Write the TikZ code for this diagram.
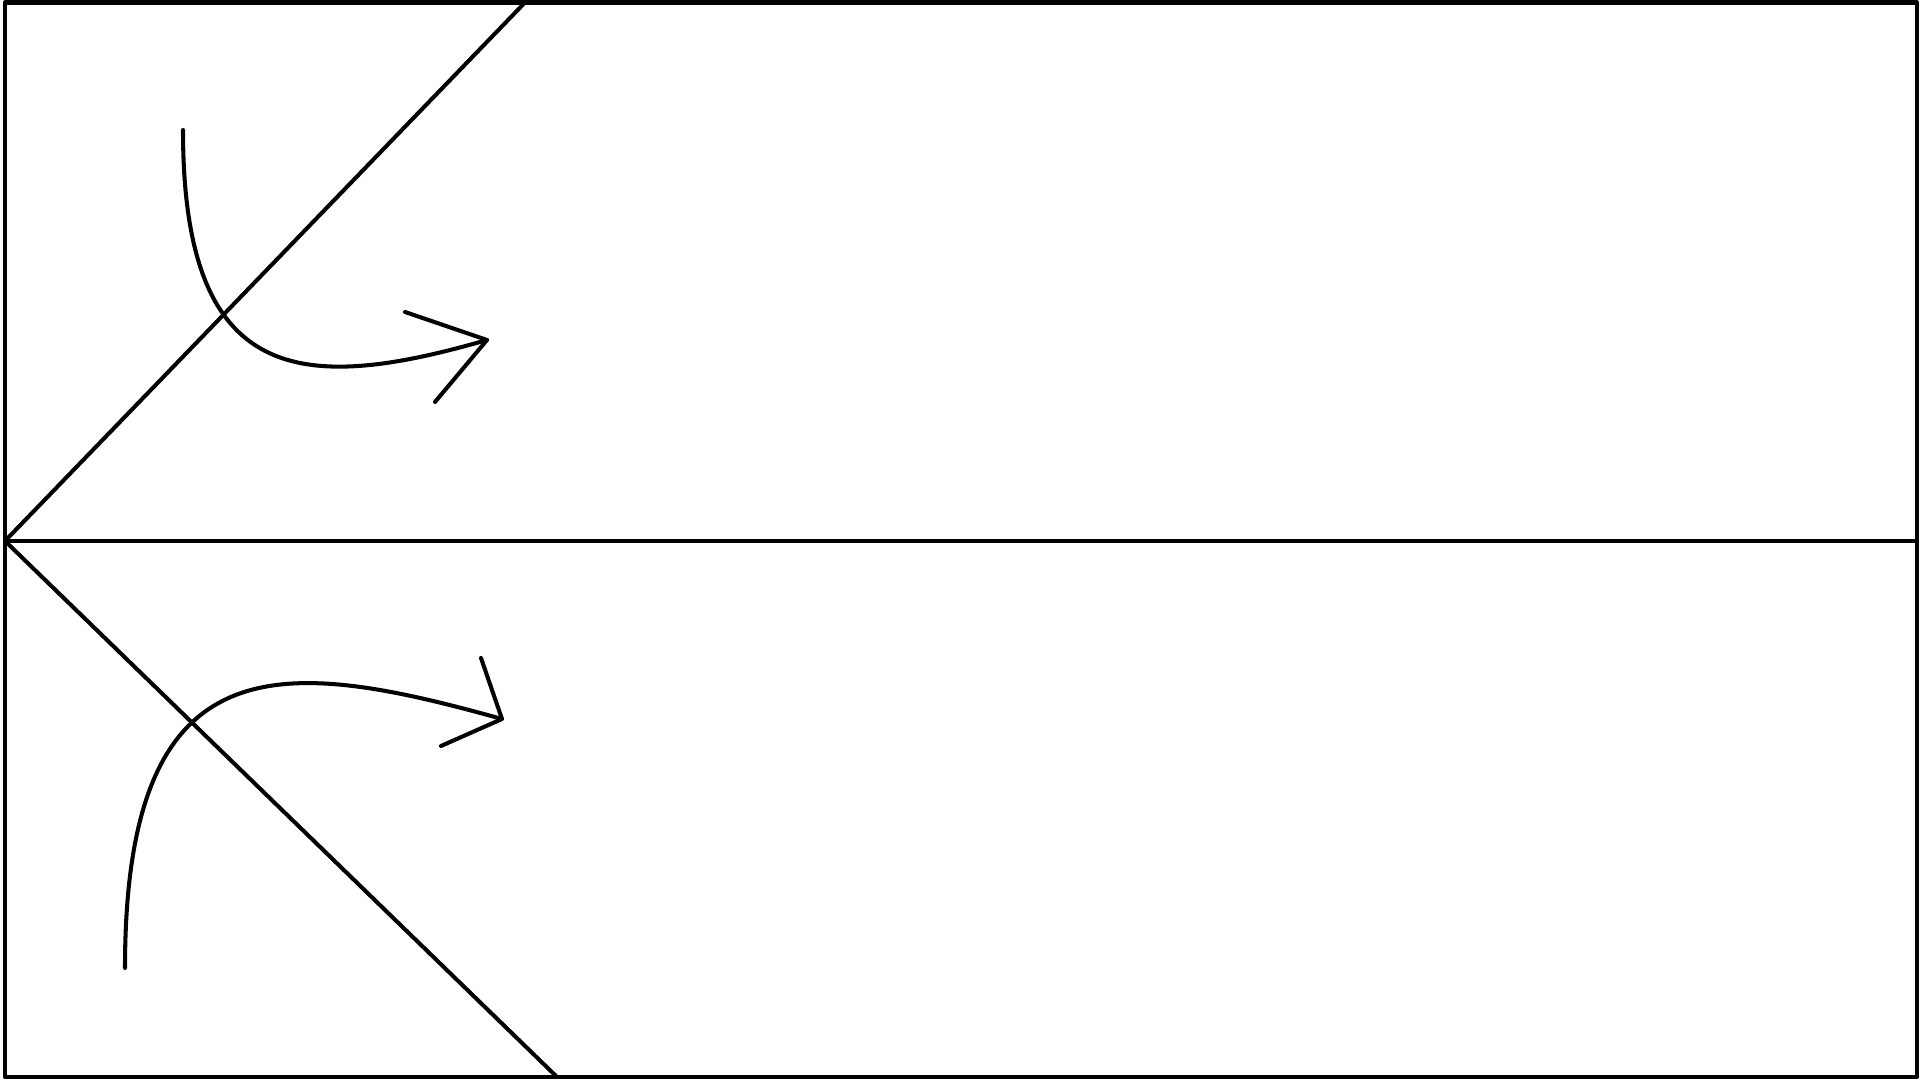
\documentclass[tikz,border=0pt]{standalone}
\begin{document}
\begin{tikzpicture}[x=0.01cm,y=-0.01cm,
  stroke/.style={draw=black,line width=1.15pt,line cap=round,line join=round}]
\useasboundingbox (0,0) rectangle (1920,1080);
% frame corners and junctions
\coordinate (tl) at (5,2.5);
\coordinate (br) at (1917,1077);
\coordinate (ml) at (5,541);
\coordinate (mr) at (1917,541);
\coordinate (dtop) at (525,2.5);
\coordinate (dbot) at (557,1077);
% upper arrow
\coordinate (ua0) at (183,130);
\coordinate (uatip) at (487,340);
\coordinate (uab1) at (405,312);
\coordinate (uab2) at (435,402);
% lower arrow
\coordinate (la0) at (125,968);
\coordinate (latip) at (502,719);
\coordinate (lab1) at (481,658);
\coordinate (lab2) at (441,746);

\draw[stroke] (tl) rectangle (br);
\draw[stroke] (ml) -- (mr);
\draw[stroke] (ml) -- (dtop);
\draw[stroke] (ml) -- (dbot);

\draw[stroke] (ua0) .. controls (183,385) and (300,394) .. (uatip);
\draw[stroke] (uab1) -- (uatip) -- (uab2);

\draw[stroke] (la0) .. controls (125,640) and (280,657) .. (latip);
\draw[stroke] (lab1) -- (latip) -- (lab2);
\end{tikzpicture}
\end{document}
